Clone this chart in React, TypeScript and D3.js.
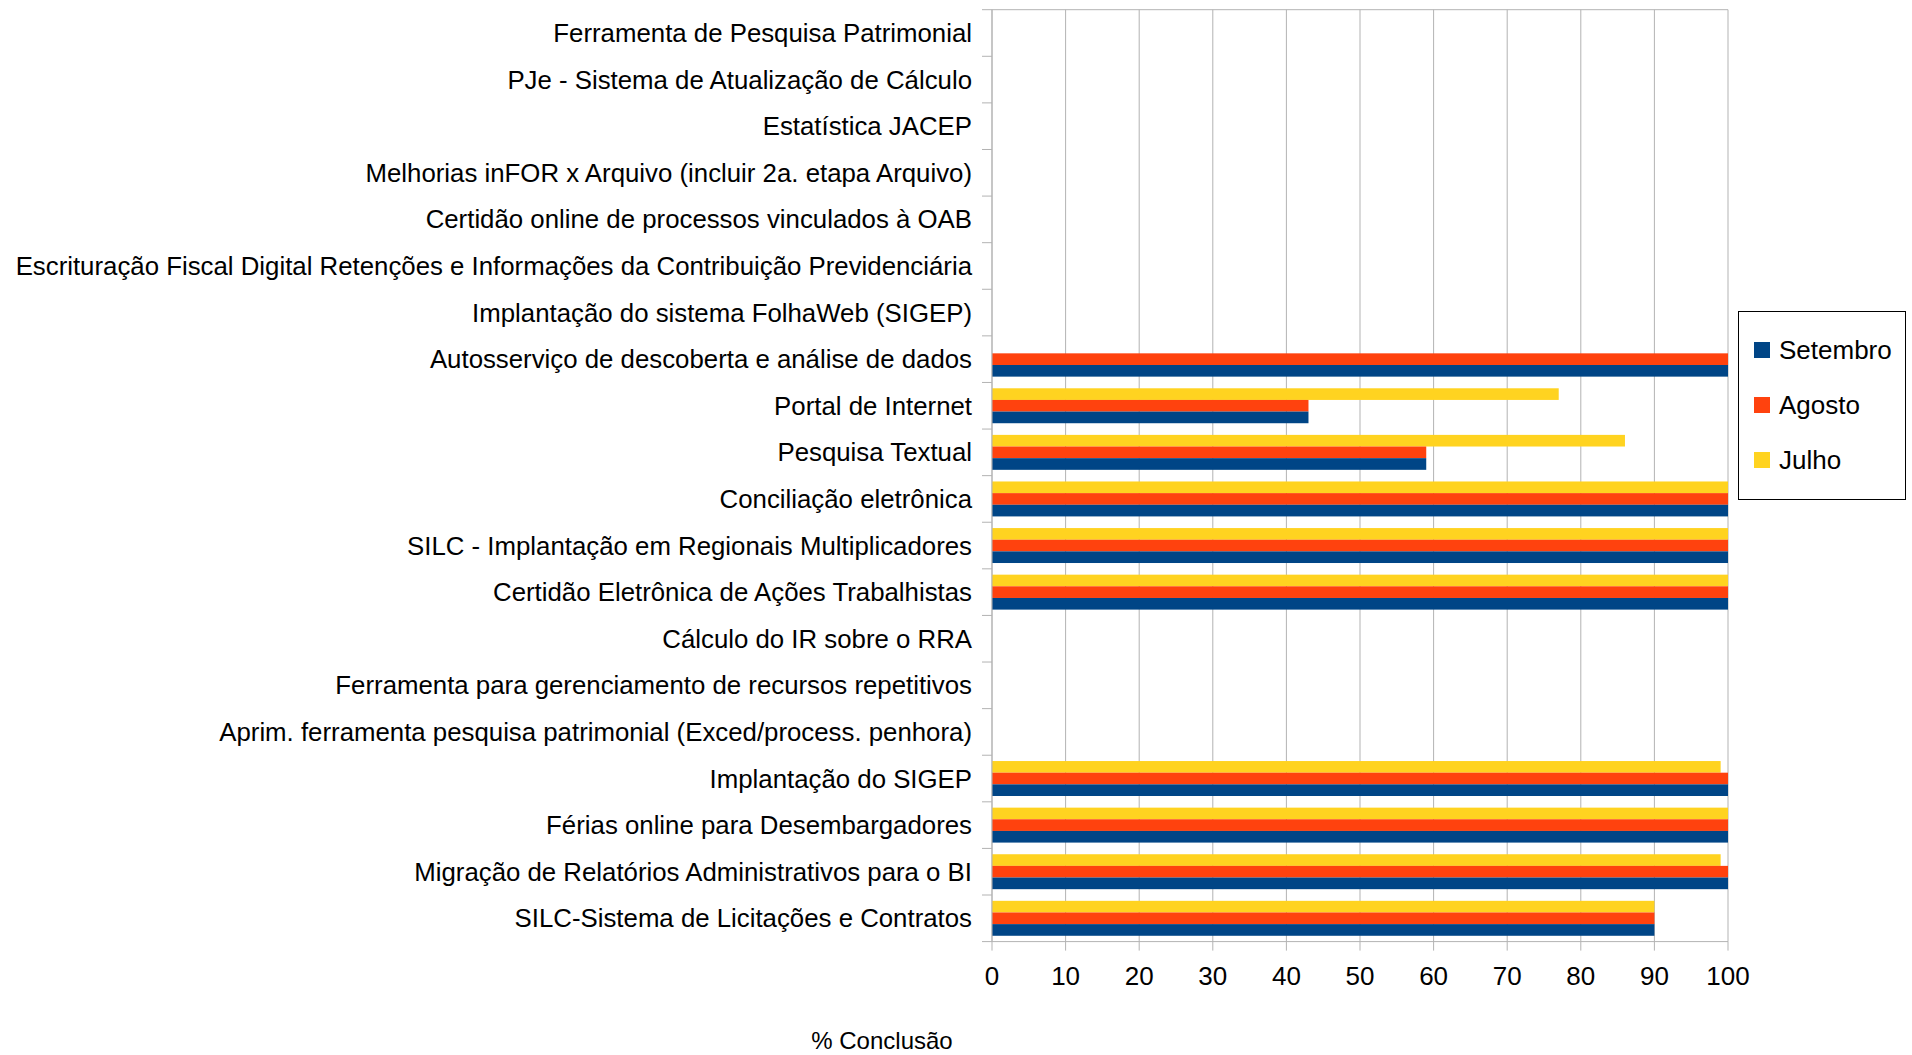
import React from "react";
import * as d3 from "d3";

const categories = [
  "Ferramenta de Pesquisa Patrimonial",
  "PJe - Sistema de Atualização de Cálculo",
  "Estatística JACEP",
  "Melhorias inFOR x Arquivo (incluir 2a. etapa Arquivo)",
  "Certidão online de processos vinculados à OAB",
  "Escrituração Fiscal Digital Retenções e Informações da Contribuição Previdenciária",
  "Implantação do sistema FolhaWeb (SIGEP)",
  "Autosserviço de descoberta e análise de dados",
  "Portal de Internet",
  "Pesquisa Textual",
  "Conciliação eletrônica",
  "SILC - Implantação em Regionais Multiplicadores",
  "Certidão Eletrônica de Ações Trabalhistas",
  "Cálculo do IR sobre o RRA",
  "Ferramenta para gerenciamento de recursos repetitivos",
  "Aprim. ferramenta pesquisa patrimonial (Exced/process. penhora)",
  "Implantação do SIGEP",
  "Férias online para Desembargadores",
  "Migração de Relatórios Administrativos para o BI",
  "SILC-Sistema de Licitações e Contratos",
];

const julho = [0, 0, 0, 0, 0, 0, 0, 0, 77, 86, 100, 100, 100, 0, 0, 0, 99, 100, 99, 90];
const agosto = [0, 0, 0, 0, 0, 0, 0, 100, 43, 59, 100, 100, 100, 0, 0, 0, 100, 100, 100, 90];
const setembro = [0, 0, 0, 0, 0, 0, 0, 100, 43, 59, 100, 100, 100, 0, 0, 0, 100, 100, 100, 90];

// drawing order within a group (top to bottom)
const seriesNames = ["Julho", "Agosto", "Setembro"];
const seriesValues = [julho, agosto, setembro];
const seriesColors = ["#ffd320", "#ff420e", "#004586"];

// legend order
const legendNames = ["Setembro", "Agosto", "Julho"];
const legendColors = ["#004586", "#ff420e", "#ffd320"];

const xTicks = [0, 10, 20, 30, 40, 50, 60, 70, 80, 90, 100];
const xTitle = "% Conclusão";

const W = 1912;
const H = 1055;
const left = 992;
const right = 1728;
const top = 9.7;
const bottom = 941.6;
const FONT = "'Liberation Sans', Arial, sans-serif";

export default function App() {
  const x = d3.scaleLinear().domain([0, 100]).range([left, right]);
  const y = d3.scaleBand<string>().domain(categories).range([top, bottom]).paddingInner(0.25).paddingOuter(0.125);
  const yBound = d3.scaleBand<string>().domain(categories).range([top, bottom]);
  const inner = d3.scaleBand<string>().domain(seriesNames).range([0, y.bandwidth()]);

  return (
    <svg
      width={W}
      height={H}
      style={{ position: "fixed", left: 0, top: 0, background: "#fff" }}
      fontFamily={FONT}
    >
      <rect x={0} y={0} width={W} height={H} fill="#fff" />
      {/* gridlines */}
      {xTicks.map((t) => (
        <line key={"g" + t} x1={x(t)} x2={x(t)} y1={top} y2={bottom} stroke="#b3b3b3" strokeWidth={1} />
      ))}
      <line x1={left} x2={right} y1={top} y2={top} stroke="#b3b3b3" strokeWidth={1} />
      {/* bars */}
      {categories.map((c, i) => (
        <g key={"c" + i}>
          {seriesNames.map((s, j) => {
            const v = seriesValues[j][i];
            if (!v) return null;
            return (
              <rect
                key={s}
                x={x(0)}
                y={(y(c) as number) + (inner(s) as number)}
                width={x(v) - x(0)}
                height={inner.bandwidth()}
                fill={seriesColors[j]}
              />
            );
          })}
        </g>
      ))}
      {/* axes */}
      <line x1={left} x2={left} y1={top} y2={bottom} stroke="#b3b3b3" strokeWidth={1} />
      <line x1={left} x2={right} y1={bottom} y2={bottom} stroke="#b3b3b3" strokeWidth={1} />
      {categories.map((c, i) => (
        <line
          key={"yt" + i}
          x1={left - 10}
          x2={left}
          y1={yBound(c) as number}
          y2={yBound(c) as number}
          stroke="#b3b3b3"
        />
      ))}
      <line x1={left - 10} x2={left} y1={bottom} y2={bottom} stroke="#b3b3b3" />
      {xTicks.map((t) => (
        <g key={"xt" + t}>
          <line x1={x(t)} x2={x(t)} y1={bottom} y2={bottom + 9} stroke="#b3b3b3" />
          <text x={x(t)} y={985} textAnchor="middle" fontSize={26} fill="#000">
            {t}
          </text>
        </g>
      ))}
      {/* category labels */}
      {categories.map((c, i) => (
        <text
          key={"l" + i}
          x={972}
          y={(yBound(c) as number) + yBound.bandwidth() / 2}
          dy="0.35em"
          textAnchor="end"
          fontSize={25.8}
          fill="#000"
        >
          {c}
        </text>
      ))}
      {/* x title */}
      <text x={882} y={1049} textAnchor="middle" fontSize={24} fill="#000">
        {xTitle}
      </text>
      {/* legend */}
      <rect x={1738.5} y={311.5} width={167} height={188} fill="#fff" stroke="#000" strokeWidth={1} />
      {legendNames.map((n, i) => (
        <g key={"lg" + n}>
          <rect x={1754} y={342 + i * 55} width={16} height={16} fill={legendColors[i]} />
          <text x={1779} y={350 + i * 55} dy="0.35em" fontSize={26} fill="#000">
            {n}
          </text>
        </g>
      ))}
    </svg>
  );
}
